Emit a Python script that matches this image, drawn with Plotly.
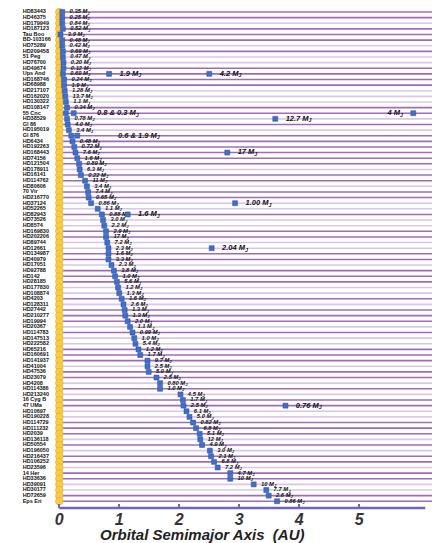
import plotly.graph_objects as go

# ---------------- data ----------------
star_names = [
    "HD83443", "HD46375", "HD179949", "HD187123", "Tau Boo", "BD-103166", "HD75289", "HD209458",
    "51 Peg", "HD76700", "HD49674", "Ups And", "HD168746", "HD68988", "HD217107", "HD162020",
    "HD130322", "HD108147", "55 Cnc", "HD38529", "Gl 86", "HD195019", "Gl 876", "HD6434",
    "HD192263", "HD168443", "HD74156", "HD121504", "HD178911", "HD16141", "HD114762", "HD80606",
    "70 Vir", "HD216770", "HD37124", "HD52265", "HD82943", "HD73526", "HD8574", "HD169830",
    "HD202206", "HD89744", "HD12661", "HD134987", "HD40979", "HD17051", "HD92788", "HD142",
    "HD28185", "HD177830", "HD108874", "HD4203", "HD128311", "HD27442", "HD210277", "HD19994",
    "HD20367", "HD114783", "HD147513", "HD222582", "HD65216", "HD160691", "HD141937", "HD41004",
    "HD47536", "HD23079", "HD4208", "HD114386", "HD213240", "16 Cyg B", "47 UMa", "HD10697",
    "HD190228", "HD114729", "HD111232", "HD2039", "HD136118", "HD50554", "HD196050", "HD216437",
    "HD106252", "HD23596", "14 Her", "HD33636", "HD39091", "HD30177", "HD72659", "Eps Eri",
]

# innermost planet semimajor axis (AU) per star row
inner_a = [
    0.05, 0.05, 0.05, 0.06, 0.02, 0.05, 0.05, 0.06, 0.06, 0.07, 0.07, 0.06, 0.08, 0.08, 0.09, 0.10,
    0.11, 0.13, 0.11, 0.13, 0.14, 0.16, 0.20, 0.22, 0.25, 0.27, 0.30, 0.33, 0.34, 0.36, 0.43, 0.46,
    0.48, 0.49, 0.53, 0.64, 0.71, 0.73, 0.75, 0.78, 0.78, 0.80, 0.82, 0.82, 0.82, 0.87, 0.91, 0.93,
    0.96, 0.98, 1.00, 1.04, 1.07, 1.09, 1.10, 1.14, 1.18, 1.22, 1.25, 1.27, 1.32, 1.35, 1.47, 1.47,
    1.49, 1.62, 1.68, 1.68, 2.02, 2.06, 2.07, 2.12, 2.17, 2.23, 2.28, 2.34, 2.35, 2.38, 2.51, 2.53,
    2.58, 2.64, 2.85, 2.85, 3.24, 3.45, 3.49, 3.63,
]

# mass label (M_J) for innermost planet; None where a system label is used instead
inner_mass = [
    "0.35", "0.25", "0.84", "0.52", "3.9", "0.48", "0.42", "0.69", "0.47", "0.20", "0.12", "0.69",
    "0.24", "1.9", "1.28", "13.7", "1.1", "0.34", None, "0.78", "4.0", "3.4", None, "0.48",
    "0.72", "7.6", "1.6", "0.89", "6.3", "0.22", "11", "3.4", "7.4", "0.65", "0.86", "1.1",
    "0.88", "3.0", "2.2", "2.9", "17", "7.2", "2.3", "1.6", "3.3", "2.3", "3.8", "1.0",
    "5.6", "1.2", "1.3", "1.6", "2.6", "1.3", "1.3", "2.0", "1.1", "0.99", "1.0", "5.4",
    "1.2", "1.7", "9.7", "2.5", "5.0", "2.5", "0.80", "1.0", "4.5", "1.7", "2.5", "6.1",
    "5.0", "0.82", "6.8", "5.1", "12", "4.9", "3.0", "2.1", "6.8", "7.2", "4.7", "10",
    "10", "7.7", "2.6", "0.86",
]

# extra planets in multi-planet systems: row, semimajor axis, label
multi_rows = [11, 11, 18, 19, 22, 25, 34, 36, 42, 70]
multi_a = [0.83, 2.50, 0.24, 3.60, 0.30, 2.80, 2.93, 1.14, 2.54, 3.77]
multi_labels = ["1.9", "4.2", "", "12.7", "", "17", "1.00", "1.6", "2.04", "0.76"]

# system labels written in the middle of a row
sys_rows = [18, 22]
sys_x = [0.63, 0.98]
sys_labels = ["0.8 & 0.3", "0.6 & 1.9"]

# far outer planet of 55 Cnc
far_row = [18]
far_a = [5.9]
far_label = ["4"]

tick_vals = [0, 1, 2, 3, 4, 5]
tick_text = ["0", "1", "2", "3", "4", "5"]

row_shade = "DDLDDDLDLLDDDDLLLDDLDLDDDDDDLDDLDDLLDLLDDLLDDLDDDLLDLDDDLDLLDDDLDDLDLDDLLDDDLDLDDLDDLLDD"

# ---------------- figure ----------------
n = len(star_names)
rows = list(range(n))
fig = go.Figure()

dark_x, dark_y, light_x, light_y = [], [], [], []
for r in rows:
    if row_shade[r % len(row_shade)] == "D":
        dark_x += [0, 6.4, None]; dark_y += [r, r, None]
    else:
        light_x += [0, 6.4, None]; light_y += [r, r, None]
fig.add_trace(go.Scatter(x=light_x, y=light_y, mode="lines",
                         line=dict(color="#dcc6e6", width=1.6), hoverinfo="skip"))
fig.add_trace(go.Scatter(x=dark_x, y=dark_y, mode="lines",
                         line=dict(color="#a06cb8", width=1.6), hoverinfo="skip"))

# stars
fig.add_trace(go.Scatter(x=[0] * n, y=rows, mode="markers",
                         marker=dict(symbol="circle", size=7.5, color="#f8cc4a",
                                     line=dict(color="#e8a81c", width=0.6)),
                         hoverinfo="skip"))

# star names
fig.add_trace(go.Scatter(x=[-0.61] * n, y=rows, mode="text", text=star_names,
                         textposition="middle right",
                         textfont=dict(family="Liberation Sans", size=5.5, color="#111",
                                       weight="bold"),
                         hoverinfo="skip"))

sq = dict(symbol="square", size=5, color="#3f6fc8", line=dict(color="#2a4f9c", width=0.5))

# inner planets with their labels
fig.add_trace(go.Scatter(
    x=inner_a, y=rows, mode="markers+text",
    text=[("  " + m + " M<sub>J</sub>") if m else "" for m in inner_mass],
    textposition="middle right",
    textfont=dict(family="Liberation Sans", size=5.8, color="#111", weight="bold", style="italic"),
    marker=sq, cliponaxis=False, hoverinfo="skip"))

# additional planets
fig.add_trace(go.Scatter(
    x=multi_a, y=multi_rows, mode="markers+text",
    text=[("   " + m + " M<sub>J</sub>") if m else "" for m in multi_labels],
    textposition="middle right",
    textfont=dict(family="Liberation Sans", size=7.5, color="#111", weight="bold", style="italic"),
    marker=sq, hoverinfo="skip"))

# system labels
fig.add_trace(go.Scatter(
    x=sys_x, y=sys_rows, mode="text",
    text=[m + " M<sub>J</sub>" for m in sys_labels],
    textposition="middle right",
    textfont=dict(family="Liberation Sans", size=7.5, color="#111", weight="bold", style="italic"),
    hoverinfo="skip"))

# far outer planet, label to the left
fig.add_trace(go.Scatter(
    x=far_a, y=far_row, mode="markers+text",
    text=[m + " M<sub>J</sub>   " for m in far_label],
    textposition="middle left",
    textfont=dict(family="Liberation Sans", size=7.5, color="#111", weight="bold", style="italic"),
    marker=sq, hoverinfo="skip"))

# axis line
fig.add_shape(type="line", xref="x", yref="paper", x0=0, x1=6.1, y0=0, y1=0,
              line=dict(color="#6f66bb", width=2.5))

fig.add_annotation(text="<b><i>Orbital Semimajor Axis  (AU)</i></b>", xref="paper", yref="paper",
                   x=0.468, y=-0.053, xanchor="center", yanchor="middle", showarrow=False,
                   font=dict(family="Liberation Sans", size=15, color="#222"))

fig.update_layout(
    width=432, height=543,
    margin=dict(l=0, r=0, t=0, b=35),
    paper_bgcolor="white", plot_bgcolor="white",
    showlegend=False,
    xaxis=dict(range=[-0.988, 6.212], showgrid=False, zeroline=False, showline=False,
               tickvals=tick_vals, ticktext=["<b><i>" + t + "</i></b>" for t in tick_text],
               ticks="inside", ticklen=4, tickwidth=2, tickcolor="#6f66bb",
               tickfont=dict(family="Liberation Sans", size=16, color="#333")),
    yaxis=dict(range=[88.2, -2.13], showgrid=False, zeroline=False, showline=False,
               showticklabels=False, ticks=""),
)

fig.write_html("out.html")
